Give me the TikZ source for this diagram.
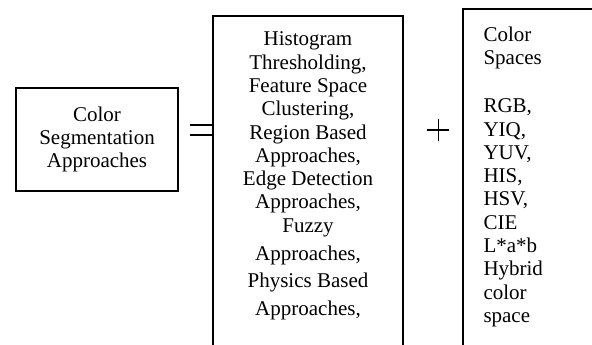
\documentclass[tikz,border=0pt]{standalone}
\usepackage{fontspec}
\setmainfont{Liberation Serif}
\usetikzlibrary{positioning}

\begin{document}
\begin{tikzpicture}[x=1pt,y=1pt,
    box/.style={draw,line width=1.4pt,inner sep=0pt},
    words/.style={inner sep=0pt,font=\fontsize{21}{23.3}\selectfont}]
  \useasboundingbox (0,0) rectangle (592,345);
  \clip (0,0) rectangle (592,345);
  % Left box
  \node[box,words,align=center,minimum width=162pt,minimum height=103pt] (approach) at (97,205.5)
    {Color\\Segmentation\\Approaches};
  % Middle and right boxes run past the page edge
  \node[box,minimum width=190pt,minimum height=369pt] (methods) at (308,144.5) {};
  \node[words,align=center,below=16.4pt of methods.north] (methodlist)
    {Histogram\\Thresholding,\\Feature Space\\Clustering,\\Region Based\\Approaches,\\
     Edge Detection\\Approaches,\\Fuzzy\\[4.5pt]Approaches,\\[4.5pt]Physics Based\\[4.5pt]Approaches,};
  \node[box,minimum width=200pt,minimum height=376pt] (spaces) at (563,148) {};
  \node[words,align=left,anchor=north west] (spacelist) at ([xshift=21pt,yshift=-18.4pt]spaces.north west)
    {Color\\Spaces\\[24.7pt]RGB,\\YIQ,\\YUV,\\HIS,\\HSV,\\CIE\\L*a*b\\Hybrid\\color\\space};
  % Equals and plus
  \foreach \y in {210,220}
    \draw[line width=1.6pt] (190,\y) -- (213,\y);
  \draw[line width=1.1pt] (427.3,215) -- (449.3,215);
  \draw[line width=1.1pt] (438.3,204.3) -- (438.3,226);
\end{tikzpicture}
\end{document}
